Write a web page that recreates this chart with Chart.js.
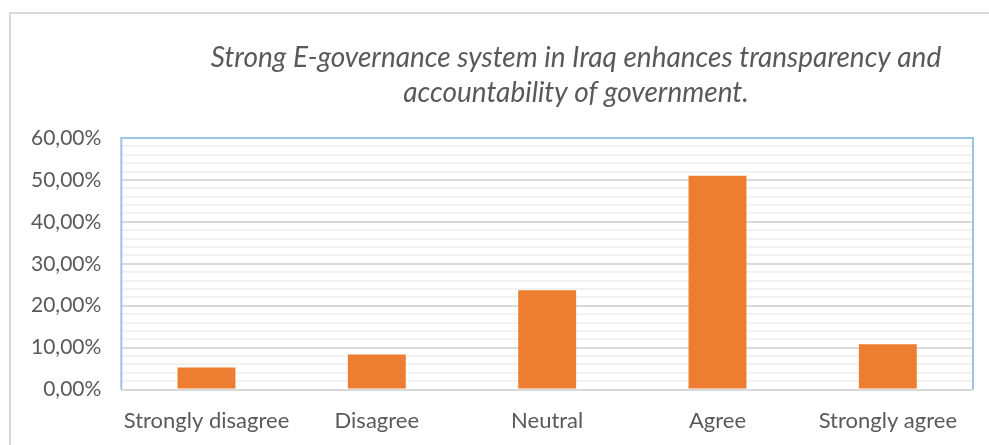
<!DOCTYPE html>
<html>
<head>
<meta charset="utf-8">
<script src="https://cdn.jsdelivr.net/npm/chart.js@4.4.0/dist/chart.umd.min.js"></script>
<style>
html, body { margin: 0; padding: 0; background: #fff; }
</style>
</head>
<body>
<canvas id="canvas" width="989" height="445"></canvas>
<script>
// chart data
var categories = ['Strongly disagree', 'Disagree', 'Neutral', 'Agree', 'Strongly agree'];
var percentValues = [5.3, 8.4, 23.7, 51.0, 10.8];
var titleLines = ['Strong E-governance system in Iraq enhances transparency and', 'accountability of government.'];
var yMax = 60;
var majorStep = 10;
var minorStep = 2;

var textGrey = '#595959';

function pctLabel(v) {
	return v.toFixed(2).replace('.', ',') + '%';
}

// outer frame, blue plot border and the italic title
var framePlugin = {
	id: 'frame',
	beforeDraw: function(chart) {
		var ctx = chart.ctx;
		ctx.save();
		ctx.strokeStyle = '#d9d9d9';
		ctx.lineWidth = 2;
		ctx.beginPath();
		ctx.moveTo(10, chart.height);
		ctx.lineTo(10, 13);
		ctx.lineTo(chart.width, 13);
		ctx.stroke();
		ctx.restore();
	},
	beforeDatasetsDraw: function(chart) {
		var a = chart.chartArea;
		var ctx = chart.ctx;
		ctx.save();
		ctx.strokeStyle = '#9dc3e6';
		ctx.lineWidth = 2;
		ctx.beginPath();
		ctx.moveTo(a.left, a.bottom);
		ctx.lineTo(a.left, a.top);
		ctx.lineTo(a.right, a.top);
		ctx.lineTo(a.right, a.bottom);
		ctx.stroke();
		ctx.restore();
	},
	afterDraw: function(chart) {
		var ctx = chart.ctx;
		ctx.save();
		ctx.fillStyle = textGrey;
		ctx.font = 'italic 28px Lato';
		ctx.textAlign = 'center';
		ctx.textBaseline = 'alphabetic';
		ctx.fillText(titleLines[0], 576, 67);
		ctx.fillText(titleLines[1], 576, 102);
		ctx.restore();
	}
};

var ctx = document.getElementById('canvas').getContext('2d');
window.myBar = new Chart(ctx, {
	type: 'bar',
	data: {
		labels: categories,
		datasets: [{
			label: 'Share',
			data: percentValues,
			backgroundColor: '#ed7d31',
			borderWidth: 0,
			barPercentage: 0.34,
			categoryPercentage: 1
		}]
	},
	plugins: [framePlugin],
	options: {
		responsive: false,
		devicePixelRatio: 1,
		animation: false,
		layout: {
			padding: { left: 11, right: 16, top: 138, bottom: 1 }
		},
		plugins: {
			legend: { display: false },
			title: { display: false },
			tooltip: { enabled: false }
		},
		scales: {
			x: {
				grid: { display: false },
				border: { display: false },
				ticks: {
					color: textGrey,
					font: { family: 'Lato', size: 22 },
					padding: 10,
					maxRotation: 0,
					minRotation: 0,
					autoSkip: false
				}
			},
			y: {
				min: 0,
				max: yMax,
				border: { display: false },
				grid: {
					drawTicks: false,
					lineWidth: 2,
					color: function(c) {
						return c.tick.value % majorStep === 0 ? '#d9d9d9' : '#f2f2f2';
					}
				},
				ticks: {
					stepSize: minorStep,
					autoSkip: false,
					color: textGrey,
					font: { family: 'Lato', size: 21 },
					padding: 20,
					callback: function(v) {
						return v % majorStep === 0 ? pctLabel(v) : '';
					}
				}
			}
		}
	}
});
</script>
</body>
</html>
